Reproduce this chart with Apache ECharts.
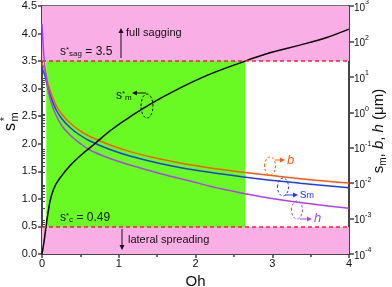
<!DOCTYPE html>
<html>
<head>
<meta charset="utf-8">
<script src="https://cdn.jsdelivr.net/npm/echarts@6/dist/echarts.min.js"></script>
<style>
html,body{margin:0;padding:0;background:#fff;}
#c{width:392px;height:287px;}
</style>
</head>
<body>
<div id="c"></div>
<script>
// ---- data ----
const ohBlack = [0, 0.026, 0.052, 0.078, 0.117, 0.182, 0.313, 0.443, 0.573, 0.704, 0.9, 1.147, 1.577, 2.098, 2.645, 2.97, 3.36, 3.71, 4.0];
const smStar  = [0, 0.22, 0.49, 0.74, 1.03, 1.27, 1.52, 1.71, 1.87, 2.02, 2.25, 2.49, 2.85, 3.21, 3.50, 3.65, 3.79, 3.93, 4.08];

const ohC  = [0, 0.013, 0.026, 0.052, 0.078, 0.117, 0.182, 0.261, 0.365, 0.482, 0.625, 0.886, 1.147, 1.537, 1.928, 2.319, 2.84, 3.362, 4.0];
const bVal = [24.6, 20.9, 17.8, 11.3, 6.28, 3.50, 1.60, 0.865, 0.498, 0.316, 0.207, 0.119, 0.0776, 0.048, 0.0331, 0.0246, 0.0177, 0.0134, 0.0101];
const smVal = [17.8, 15.1, 12.9, 8.15, 4.69, 2.61, 1.20, 0.645, 0.372, 0.236, 0.155, 0.0891, 0.0584, 0.0358, 0.0247, 0.0184, 0.0131, 0.00996, 0.00743];
const hVal = [310, 96.3, 36.3, 10.6, 4.54, 1.95, 0.837, 0.410, 0.229, 0.140, 0.0861, 0.0495, 0.0325, 0.0187, 0.0115, 0.00706, 0.00420, 0.00284, 0.00195];

const sSag = 3.5;
const sC = 0.49;
const greenRange = [0.055, 2.65];
const xRange = [0, 4];
const yLeftRange = [0, 4.5];
const yRightRange = [1e-4, 1e3];

// ---- chart ----
const zip = (xs, ys) => xs.map((x, i) => [x, ys[i]]);
const FONT = 'Liberation Sans, Arial, sans-serif';
const AX = '#444';
const minorLog = [];
for (let n = -4; n < 3; n++) for (let k = 2; k <= 9; k++) minorLog.push(n + Math.log10(k));

const chart = echarts.init(document.getElementById('c'), null, {renderer: 'canvas'});
const option = {
  animation: false,
  textStyle: {fontFamily: FONT},
  grid: {left: 42, right: 43, top: 6, bottom: 33, containLabel: false, outerBoundsMode: 'none'},
  xAxis: [{
    type: 'value', min: xRange[0], max: xRange[1], interval: 1, position: 'bottom',
    name: 'Oh', nameLocation: 'middle', nameGap: 18,
    nameTextStyle: {fontSize: 15, color: '#111', fontFamily: FONT},
    axisLine: {show: true, onZero: false, lineStyle: {color: AX, width: 2}},
    axisTick: {show: true, length: 4, lineStyle: {color: AX, width: 1.5}},
    minorTick: {show: true, splitNumber: 2, length: 3, lineStyle: {color: AX, width: 1.5}},
    axisLabel: {fontSize: 11, color: '#111', margin: 4},
    splitLine: {show: false}
  }, {
    type: 'value', min: xRange[0], max: xRange[1], position: 'top',
    axisLine: {show: true, onZero: false, lineStyle: {color: AX, width: 1.5}},
    axisTick: {show: false}, axisLabel: {show: false}, splitLine: {show: false}
  }],
  yAxis: [{
    type: 'value', min: yLeftRange[0], max: yLeftRange[1], interval: 0.5, position: 'left',
    axisLine: {show: true, onZero: false, lineStyle: {color: AX, width: 2}},
    axisTick: {show: true, length: 4, lineStyle: {color: AX, width: 1.5}},
    axisLabel: {fontSize: 11, color: '#111', margin: 5, formatter: v => v.toFixed(1)},
    splitLine: {show: false}
  }, {
    type: 'log', logBase: 10, min: yRightRange[0], max: yRightRange[1], splitNumber: 7, position: 'right',
    axisLine: {show: true, onZero: false, lineStyle: {color: AX, width: 2}},
    axisTick: {show: true, length: 5, lineStyle: {color: AX, width: 1.5}},
    axisLabel: {
      margin: 5,
      formatter: v => '{b|10}{e|' + Math.round(Math.log10(v)) + '}',
      rich: {
        b: {fontSize: 10, color: '#111', fontFamily: FONT, lineHeight: 14, verticalAlign: 'bottom'},
        e: {fontSize: 7, color: '#111', fontFamily: FONT, lineHeight: 8, verticalAlign: 'top'}
      }
    },
    splitLine: {show: false}
  }, {
    type: 'value', min: -4, max: 3, position: 'right',
    axisLine: {show: false},
    axisTick: {show: true, length: 3, customValues: minorLog, lineStyle: {color: AX, width: 1}},
    axisLabel: {show: false}, splitLine: {show: false}
  }],
  series: [{
    type: 'line', xAxisIndex: 0, yAxisIndex: 0, data: [], silent: true, z: 1,
    markArea: {silent: true, data: [
      [{xAxis: xRange[0], yAxis: sSag, itemStyle: {color: '#FAAEE6'}}, {xAxis: xRange[1], yAxis: yLeftRange[1]}],
      [{xAxis: xRange[0], yAxis: yLeftRange[0], itemStyle: {color: '#FAAEE6'}}, {xAxis: xRange[1], yAxis: sC}],
      [{xAxis: greenRange[0], yAxis: sC, itemStyle: {color: '#68FA22'}}, {xAxis: greenRange[1], yAxis: sSag}]
    ]},
    markLine: {silent: true, symbol: 'none', label: {show: false},
      lineStyle: {color: '#E8283A', type: [4, 3], width: 1.5},
      data: [{yAxis: sSag}, {yAxis: sC}]}
  }, {
    name: 'b', type: 'line', xAxisIndex: 0, yAxisIndex: 1, data: zip(ohC, bVal), showSymbol: false,
    smooth: 0.4, z: 3, lineStyle: {color: '#FF5A0A', width: 1.5}
  }, {
    name: 'sm', type: 'line', xAxisIndex: 0, yAxisIndex: 1, data: zip(ohC, smVal), showSymbol: false,
    smooth: 0.4, z: 3, lineStyle: {color: '#1E3CF5', width: 1.5}
  }, {
    name: 'h', type: 'line', xAxisIndex: 0, yAxisIndex: 1, data: zip(ohC, hVal), showSymbol: false,
    smooth: 0.4, z: 3, lineStyle: {color: '#B040F0', width: 1.5}
  }, {
    name: 'smStar', type: 'line', xAxisIndex: 0, yAxisIndex: 0, data: zip(ohBlack, smStar), showSymbol: false,
    smooth: 0.4, z: 4, lineStyle: {color: '#000', width: 1.5}
  }],
  graphic: []
};
chart.setOption(option);

// ---- annotations ----
const richS = {
  t: {fontSize: 12, fill: '#111', fontFamily: FONT},
  sup: {fontSize: 8, fill: '#111', fontFamily: FONT, verticalAlign: 'top', lineHeight: 8},
  sub: {fontSize: 8, fill: '#111', fontFamily: FONT, verticalAlign: 'bottom', lineHeight: 8}
};
function arrow(x1, y1, x2, y2, color) {
  const ang = Math.atan2(y2 - y1, x2 - x1), L = 5, W = 2.5;
  const bx = x2 - L * Math.cos(ang), by = y2 - L * Math.sin(ang);
  const px = -Math.sin(ang) * W, py = Math.cos(ang) * W;
  return [
    {type: 'line', shape: {x1, y1, x2: bx, y2: by}, style: {stroke: color, lineWidth: 1}, z: 10},
    {type: 'polygon', shape: {points: [[x2, y2], [bx + px, by + py], [bx - px, by - py]]}, style: {fill: color}, z: 10}
  ];
}
function ell(cx, cy, rx, ry, color) {
  return {type: 'ellipse', shape: {cx, cy, rx, ry}, style: {fill: 'none', stroke: color, lineWidth: 1, lineDash: [2.5, 2]}, z: 10};
}
function rtext(x, y, text, size) {
  return {type: 'text', x, y, rotation: Math.PI / 2, z: 10, style: {
    text, fontSize: size, fontFamily: FONT, fill: '#111', align: 'center', verticalAlign: 'middle'}};
}
const g = [];
// left axis title  s*_m
g.push(rtext(11, 127, 's', 16));
g.push(rtext(5, 119, '*', 11));
g.push(rtext(15, 117, 'm', 11));
// right axis title
g.push({type: 'text', x: 379, y: 131, rotation: Math.PI / 2, z: 10, style: {
  text: '{s|s}{sub|m}{n|, }{i|b}{n|, }{i|h}{n| (μm)}', align: 'center', verticalAlign: 'middle', rich: {
    s: {fontSize: 15, fill: '#111', fontFamily: FONT, lineHeight: 18},
    n: {fontSize: 15, fill: '#111', fontFamily: FONT, lineHeight: 18},
    i: {fontSize: 15, fill: '#111', fontFamily: FONT, fontStyle: 'italic', lineHeight: 18},
    sub: {fontSize: 10, fill: '#111', fontFamily: FONT, verticalAlign: 'bottom', lineHeight: 12}
  }}});
g.push({type: 'text', x: 60, y: 52, z: 10, style: {text: '{t|s}{sup|*}{sub|sag}{t| = 3.5}', rich: richS, verticalAlign: 'middle'}});
g.push({type: 'text', x: 60, y: 218, z: 10, style: {text: '{t|s}{sup|*}{sub|c}{t| = 0.49}', rich: richS, verticalAlign: 'middle'}});
g.push({type: 'text', x: 126, y: 33, z: 10, style: {text: 'full sagging', fontSize: 11, fontFamily: FONT, fill: '#111', verticalAlign: 'middle'}});
g.push({type: 'text', x: 128, y: 240, z: 10, style: {text: 'lateral spreading', fontSize: 11, fontFamily: FONT, fill: '#111', verticalAlign: 'middle'}});
g.push(...arrow(121, 58, 121, 28, '#111'));
g.push(...arrow(122, 229, 122, 250, '#111'));
g.push({type: 'text', x: 116, y: 96, z: 10, style: {text: '{t|s}{sup|*}{sub|m}', rich: richS, verticalAlign: 'middle'}});
g.push(ell(147, 106, 6, 12, '#111'));
g.push(...arrow(146, 93, 132, 93, '#111'));
// b
g.push(ell(270, 166, 5.5, 9, '#FF5A0A'));
g.push(...arrow(275, 160, 285, 160, '#FF5A0A'));
g.push({type: 'text', x: 287, y: 160, z: 10, style: {text: 'b', fontSize: 13, fontStyle: 'italic', fontFamily: FONT, fill: '#FF5A0A', verticalAlign: 'middle'}});
// sm
g.push(ell(283, 187, 5.5, 9, '#1E3CF5'));
g.push(...arrow(285, 195, 298, 195, '#1E3CF5'));
g.push({type: 'text', x: 300, y: 194, z: 10, style: {text: '{s|s}{m|m}', verticalAlign: 'middle', rich: {
  s: {fontSize: 13, fill: '#1E3CF5', fontFamily: FONT},
  m: {fontSize: 9, fill: '#1E3CF5', fontFamily: FONT, verticalAlign: 'bottom', lineHeight: 10}}}});
// h
g.push(ell(297, 210, 5.5, 9, '#B040F0'));
g.push(...arrow(300, 219, 312, 219, '#B040F0'));
g.push({type: 'text', x: 314, y: 218, z: 10, style: {text: 'h', fontSize: 13, fontStyle: 'italic', fontFamily: FONT, fill: '#B040F0', verticalAlign: 'middle'}});

chart.setOption({graphic: g});
</script>
</body>
</html>
